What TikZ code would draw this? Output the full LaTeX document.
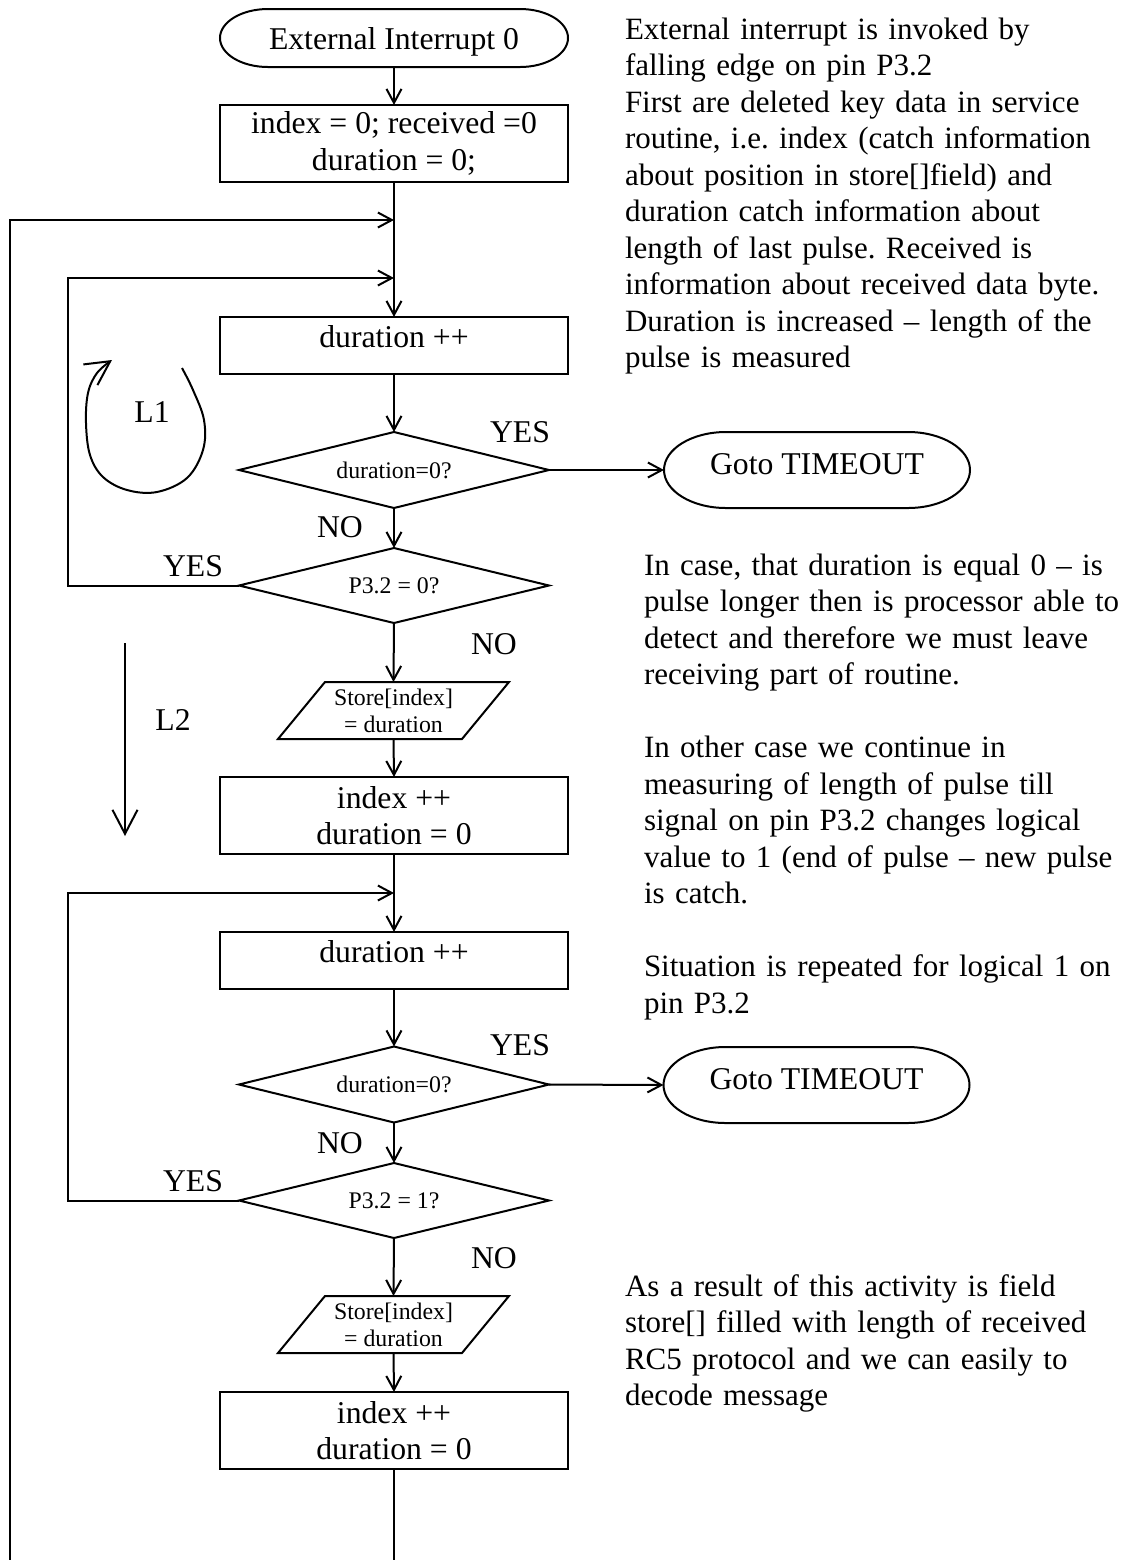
\documentclass[tikz,border=0pt]{standalone}
\usepackage{fontspec}
\setmainfont{Liberation Serif}
\usetikzlibrary{arrows.meta}
\frenchspacing

% text sizes (picture unit: 1 = 0.5pt)
\newcommand\bigtext{\fontsize{15.85pt}{18.25pt}\selectfont}
\newcommand\notetext{\fontsize{15.5pt}{18.25pt}\selectfont}
\newcommand\smalltext{\fontsize{11.9pt}{13.5pt}\selectfont}

% stadium outline around a named node: node, x radius, y radius
\newcommand\termshape[3]{%
  \draw[flow] ([xshift=#2]#1.north west) -- ([xshift=-#2]#1.north east)
    arc[start angle=90,end angle=-90,x radius=#2,y radius=#3]
    -- ([xshift=#2]#1.south west)
    arc[start angle=270,end angle=90,x radius=#2,y radius=#3] -- cycle;}

% slanted input/output outline around a named node: node, slant
\newcommand\ioshape[2]{%
  \draw[flow] ([xshift=#2]#1.north west) -- (#1.north east)
    -- ([xshift=-#2]#1.south east) -- (#1.south west) -- cycle;}

% rhombus outline through the four side anchors of a named node
\newcommand\decshape[1]{%
  \draw[flow] (#1.north) -- (#1.east) -- (#1.south) -- (#1.west) -- cycle;}

\tikzset{
  every node/.style={inner sep=0pt, outer sep=0pt},
  flow/.style={line width=1pt},
  arr/.style={line width=1pt, -{Straight Barb[length=7pt,width=7.5pt]}},
  bigarr/.style={line width=1pt, -{Straight Barb[length=12pt,width=12.5pt]}},
  procbox/.style={draw, line width=1pt, minimum width=174pt, align=center, font=\bigtext},
  termtext/.style={minimum width=153pt, minimum height=38pt, font=\bigtext},
  decision/.style={minimum width=155pt, minimum height=38pt, font=\smalltext},
  iobox/.style={minimum width=115.5pt, minimum height=28.5pt, align=center, font=\smalltext},
  lbl/.style={font=\bigtext},
  note/.style={anchor=base west, text width=250pt, align=left, font=\notetext}
}

\begin{document}
\begin{tikzpicture}[x=0.5pt,y=-0.5pt]
\useasboundingbox (0,0) rectangle (1127,1560);
\fill[white] (0,0) rectangle (1127,1560);

% ---- flow chart nodes ----
\node[termtext, minimum width=174pt, minimum height=29pt, text depth=0pt] (start) at (394,38) {External Interrupt 0};
\termshape{start}{24pt}{14.5pt}

\node[procbox, minimum height=38.5pt] (init) at (394,143.5) {index = 0; received =0\\duration = 0;};
\node[procbox, minimum height=28.5pt, text depth=9pt] (inc1) at (394,345.5) {duration ++};
\node[decision] (zero1) at (394,470) {duration=0?};
\decshape{zero1}
\node[termtext, text depth=6pt] (tout1) at (817,470) {Goto TIMEOUT};
\termshape{tout1}{31pt}{19pt}
\node[decision, minimum height=37.5pt] (pin1) at (394,585.5) {P3.2 = 0?};
\decshape{pin1}
\node[iobox] (st1) at (393.5,710.5) {Store[index]\\= duration};
\ioshape{st1}{23.5pt}
\node[procbox, minimum height=38.5pt] (next1) at (394,815.5) {index ++\\duration = 0};

\node[procbox, minimum height=28.5pt, text depth=9pt] (inc2) at (394,960.5) {duration ++};
\node[decision] (zero2) at (394,1084.5) {duration=0?};
\decshape{zero2}
\node[termtext, text depth=6pt] (tout2) at (816.5,1085) {Goto TIMEOUT};
\termshape{tout2}{31pt}{19pt}
\node[decision, minimum height=37.5pt] (pin2) at (394,1200.5) {P3.2 = 1?};
\decshape{pin2}
\node[iobox] (st2) at (393.5,1324.5) {Store[index]\\= duration};
\ioshape{st2}{23.5pt}
\node[procbox, minimum height=38.5pt] (next2) at (394,1430.5) {index ++\\duration = 0};

% ---- junctions and bends ----
\coordinate (j1) at (394,220);
\coordinate (j2) at (394,278);
\coordinate (j3) at (394,893);
\coordinate (bend0) at (10,220);
\coordinate (bottomL) at (10,1560);
\coordinate (bottomM) at (394,1560);
\coordinate (bend1) at (68,278);
\coordinate (bend2) at (68,893);

% ---- connectors ----
\draw[arr] (start.south) -- (init.north);
\draw[arr] (init.south) -- (inc1.north);
\draw[arr] (inc1.south) -- (zero1.north);
\draw[arr] (zero1.east) -- (tout1.west);
\draw[arr] (zero1.south) -- (pin1.north);
\draw[arr] (pin1.west) -| (bend1) -- (j2);
\draw[arr] (pin1.south) -- (st1.north);
\draw[arr] (st1.south) -- (next1.north);
\draw[arr] (next1.south) -- (inc2.north);
\draw[arr] (inc2.south) -- (zero2.north);
\draw[arr] (zero2.east) -- (tout2.west);
\draw[arr] (zero2.south) -- (pin2.north);
\draw[arr] (pin2.west) -| (bend2) -- (j3);
\draw[arr] (pin2.south) -- (st2.north);
\draw[arr] (st2.south) -- (next2.north);
\draw[flow] (next2.south) -- (bottomM);
\draw[arr] (bottomL) -- (bend0) -- (j1);

% ---- branch labels ----
\node[lbl] (yes1) at (520,432.5) {YES};
\node[lbl] (no1) at (340,527.5) {NO};
\node[lbl] (yes2) at (193,566) {YES};
\node[lbl] (no2) at (494,644) {NO};
\node[lbl] (yes3) at (520,1045) {YES};
\node[lbl] (no3) at (340,1143) {NO};
\node[lbl] (yes4) at (193,1181) {YES};
\node[lbl] (no4) at (494,1258) {NO};

% ---- loop markers ----
\draw[bigarr] plot[smooth, tension=0.6] coordinates {(182,368) (193,390) (204,420) (203,450) (187,478) (157,492) (127,490) (103,477) (90,455) (86,423) (88,393) (97,373) (112,360)};
\node[lbl] (l1) at (152,412) {L1};
\coordinate (l2top) at (125,643);
\coordinate (l2end) at (125,836);
\draw[bigarr] (l2top) -- (l2end);
\node[lbl] (l2) at (173,720) {L2};

% ---- explanatory notes ----
\node[note] (notea) at (625,39) {External interrupt is invoked by\\
falling edge on pin P3.2\\
First are deleted key data in service\\
routine, i.e. index (catch information\\
about position in store[]field) and\\
duration catch information about\\
length of last pulse. Received is\\
information about received data byte.\\
Duration is increased – length of the\\
pulse is measured};

\node[note] (noteb) at (644,575) {In case, that duration is equal 0 – is\\
pulse longer then is processor able to\\
detect and therefore we must leave\\
receiving part of routine.\\[18.25pt]
In other case we continue in\\
measuring of length of pulse till\\
signal on pin P3.2 changes logical\\
value to 1 (end of pulse – new pulse\\
is catch.\\[18.25pt]
Situation is repeated for logical 1 on\\
pin P3.2};

\node[note] (notec) at (625,1296) {As a result of this activity is field\\
store[] filled with length of received\\
RC5 protocol and we can easily to\\
decode message};
\end{tikzpicture}
\end{document}
